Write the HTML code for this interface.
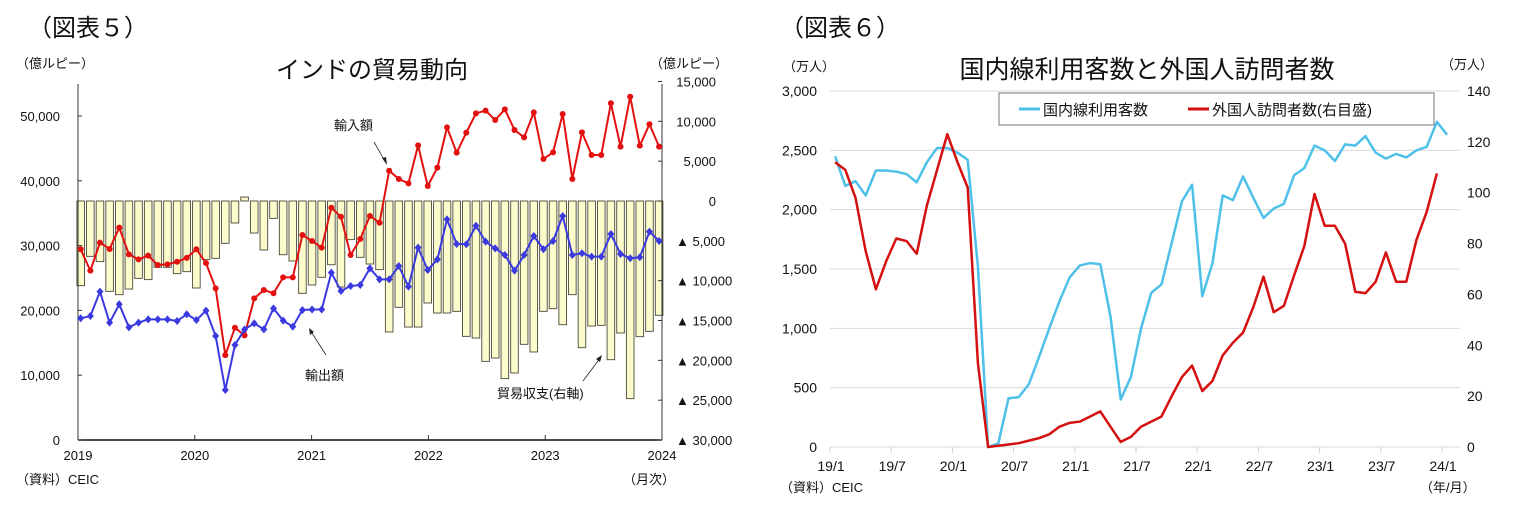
<!DOCTYPE html>
<html><head><meta charset="utf-8">
<style>
html,body{margin:0;padding:0;background:#fff;}
body{width:1519px;height:525px;overflow:hidden;font-family:"Liberation Sans","Noto Sans CJK JP",sans-serif;}
svg text{font-family:"Liberation Sans","Noto Sans CJK JP",sans-serif;fill:#111;}
</style></head><body>
<svg id="svg" width="1519" height="525" viewBox="0 0 1519 525" xmlns="http://www.w3.org/2000/svg">
  <text x="28" y="36" font-size="24" font-family="'Liberation Serif','Noto Serif CJK SC',serif">（図表５）</text>
  <text x="780" y="36" font-size="24" font-family="'Liberation Serif','Noto Serif CJK SC',serif">（図表６）</text>
  <g id="left"></g>
  <g id="right"></g>
</svg>
<script>
// ===== Left chart data (億ルピー) =====
const tradeMonths = 61; // 2019/1 - 2024/1
const tradeYearLabels = ["2019","2020","2021","2022","2023","2024"];
const importValues = [29430,26130,30450,29480,32770,28650,27880,28450,27000,27100,27500,28100,29430,27300,23400,13100,17330,16150,21860,23150,22640,25100,25100,31630,30710,29680,35850,34460,28550,31020,34570,33530,41560,40280,39610,45470,39200,42030,48250,44340,47430,50410,50820,49380,51030,47840,46710,50560,43360,44390,50310,40280,47480,43980,43980,51960,45270,52980,45420,48720,45270];
const exportValues = [18780,19130,22890,18110,20940,17390,18110,18620,18620,18620,18370,19400,18520,19960,16050,7720,14660,17080,18000,17080,20320,18420,17500,20060,20140,20140,25820,22990,23770,23920,26490,24790,24790,26850,23660,29680,26230,27880,34050,30250,30200,33070,30610,29580,28550,26130,28550,31480,29430,30710,34570,28550,28810,28290,28290,31790,28700,28040,28200,32150,30710];
const balanceValues = [-10630,-6950,-7610,-11340,-11760,-11050,-9710,-9870,-8330,-8330,-9120,-8870,-10920,-7360,-7200,-5310,-2760,500,-4020,-6150,-2180,-6740,-7530,-11590,-10540,-9580,-8000,-10800,-4850,-7070,-7910,-8620,-16440,-13350,-15820,-15820,-12800,-14060,-14060,-13850,-16990,-17200,-20130,-19710,-22300,-21590,-17990,-18950,-13850,-13520,-15530,-11760,-18410,-15690,-15610,-19920,-16570,-24810,-17030,-16360,-14350];
const leftTicks = [0,10000,20000,30000,40000,50000];
const leftTickLabels = ["0","10,000","20,000","30,000","40,000","50,000"];
const rightTicks = [15000,10000,5000,0,-5000,-10000,-15000,-20000,-25000,-30000];
const rightTickLabels = ["15,000","10,000","5,000","0","▲ 5,000","▲ 10,000","▲ 15,000","▲ 20,000","▲ 25,000","▲ 30,000"];

// ===== Right chart data (万人) =====
const flightMonthLabels = ["19/1","19/7","20/1","20/7","21/1","21/7","22/1","22/7","23/1","23/7","24/1"];
const domesticValues = [2450,2200,2240,2120,2330,2330,2320,2300,2230,2400,2520,2520,2480,2420,1520,0,30,410,420,530,760,1000,1230,1430,1530,1550,1540,1100,400,590,1000,1300,1370,1720,2070,2210,1270,1550,2120,2080,2280,2100,1930,2010,2050,2290,2350,2540,2500,2410,2550,2540,2620,2480,2430,2470,2440,2500,2530,2740,2630];
const foreignValues = [112,109,98,77,62,73,82,81,76,95,109,123,112,102,33,0,0.5,1,1.5,2.5,3.5,5,8,9.5,10,12,14,8,2,4,8,10,12,20,27.5,32,22,26,36,41,45,55,67,53,55.5,67.5,79,99.5,87,87,80,61,60.5,65,76.5,65,65,81.5,92.5,107.6];
const domesticTicks = [0,500,1000,1500,2000,2500,3000];
const domesticTickLabels = ["0","500","1,000","1,500","2,000","2,500","3,000"];
const foreignTicks = [0,20,40,60,80,100,120,140];
const foreignTickLabels = ["0","20","40","60","80","100","120","140"];

const NS="http://www.w3.org/2000/svg";
function mk(parent,tag,attrs,text){const e=document.createElementNS(NS,tag);for(const k in attrs)e.setAttribute(k,attrs[k]);if(text!==undefined)e.textContent=text;parent.appendChild(e);return e;}

// ---------- LEFT ----------
const L=document.getElementById('left');
const lx0=78,lx1=662,ly0=440,ly1=84;
const xL=i=>80.7+i*9.64;
const yL=v=>440-v*0.00648;
const yR=v=>201-v*0.007967;

let t;
t=mk(L,'text',{x:372,y:78,'font-size':24,'text-anchor':'middle'},'インドの貿易動向');


t=mk(L,'text',{x:16,y:68,'font-size':13},'（億ルピー）');


t=mk(L,'text',{x:650,y:68,'font-size':13},'（億ルピー）');



// bars
balanceValues.forEach((v,i)=>{
  const y0=yR(0),y1=yR(v);
  const r=mk(L,'rect',{x:xL(i)-3.8,y:Math.min(y0,y1),width:7.6,height:Math.max(1,Math.abs(y1-y0)),fill:'#fbfbcc',stroke:'#4a4a3a','stroke-width':0.9});
  
  
});
// axes
let a=mk(L,'line',{x1:lx0,y1:ly1,x2:lx0,y2:ly0,stroke:'#333','stroke-width':1});


a=mk(L,'line',{x1:lx1,y1:ly1,x2:lx1,y2:ly0,stroke:'#333','stroke-width':1});


a=mk(L,'line',{x1:lx0,y1:ly0,x2:lx1,y2:ly0,stroke:'#111','stroke-width':1.5});


leftTicks.forEach((v,i)=>{
  mk(L,'line',{x1:lx0,y1:yL(v),x2:lx0+4,y2:yL(v),stroke:'#333'});
  const tt=mk(L,'text',{x:60,y:yL(v)+5,'font-size':13,'text-anchor':'end'},leftTickLabels[i]);
  
  
});
rightTicks.forEach((v,i)=>{
  mk(L,'line',{x1:lx1-4,y1:yR(v),x2:lx1,y2:yR(v),stroke:'#333'});
  const tt=mk(L,'text',{x:v<0?676:716,y:yR(v)+5,'font-size':13,'text-anchor':v<0?'start':'end'},rightTickLabels[i]);
  
  
});
tradeYearLabels.forEach((s,i)=>{
  const x=lx0+i*116.8;
  mk(L,'line',{x1:x,y1:ly0,x2:x,y2:ly0-5,stroke:'#333'});
  const tt=mk(L,'text',{x:x,y:460,'font-size':13,'text-anchor':'middle'},s);
  
  
});
// lines
function poly(parent,vals,xf,yf,color,w){return mk(parent,'polyline',{points:vals.map((v,i)=>xf(i)+','+yf(v)).join(' '),fill:'none',stroke:color,'stroke-width':w,'stroke-linejoin':'round'});}
let p=poly(L,importValues,xL,yL,'#e31010',2);


importValues.forEach((v,i)=>{const c=mk(L,'circle',{cx:xL(i),cy:yL(v),r:3,fill:'#e31010'});
  
  });
p=poly(L,exportValues,xL,yL,'#3a3ae0',2);


exportValues.forEach((v,i)=>{const x=xL(i),y=yL(v);const d=mk(L,'polygon',{points:`${x},${y-4} ${x+3.5},${y} ${x},${y+4} ${x-3.5},${y}`,fill:'#3a3ae0'});
  
  });
// annotations
t=mk(L,'text',{x:334,y:130,'font-size':13},'輸入額');


mk(L,'line',{x1:374,y1:142,x2:386,y2:163,stroke:'#222','stroke-width':0.8});
mk(L,'polygon',{points:'387,165 382,158 386,157',fill:'#222'});
t=mk(L,'text',{x:305,y:380,'font-size':13},'輸出額');


mk(L,'line',{x1:326,y1:355,x2:310,y2:330,stroke:'#222','stroke-width':0.8});
mk(L,'polygon',{points:'309,328 310,335 314,332',fill:'#222'});
t=mk(L,'text',{x:497,y:398,'font-size':13},'貿易収支(右軸)');


mk(L,'line',{x1:583,y1:381,x2:601,y2:357,stroke:'#222','stroke-width':0.8});
mk(L,'polygon',{points:'602,355 596,359 600,362',fill:'#222'});
t=mk(L,'text',{x:16,y:484,'font-size':13},'（資料）CEIC');


t=mk(L,'text',{x:623,y:484,'font-size':13},'（月次）');



// ---------- RIGHT ----------
const R=document.getElementById('right');
const rx0=830,rx1=1460;
const xR2=i=>830+(i+0.5)*10.2;
const yD=v=>447-v*(356/3000);
const yF=v=>447-v*(356/140);
t=mk(R,'text',{x:1147,y:78,'font-size':25,'text-anchor':'middle'},'国内線利用客数と外国人訪問者数');


t=mk(R,'text',{x:783,y:71,'font-size':13},'（万人）');


t=mk(R,'text',{x:1441,y:69,'font-size':13},'（万人）');


domesticTicks.forEach((v,i)=>{
  const g=mk(R,'line',{x1:rx0,y1:yD(v),x2:rx1,y2:yD(v),stroke:'#d9d9d9','stroke-width':1});
  
  
  const tt=mk(R,'text',{x:817,y:yD(v)+5,'font-size':14,'text-anchor':'end'},domesticTickLabels[i]);
  
  
});
foreignTicks.forEach((v,i)=>{
  const tt=mk(R,'text',{x:1467,y:yF(v)+5,'font-size':14},foreignTickLabels[i]);
  
  
});
flightMonthLabels.forEach((s,i)=>{
  const x=830+i*61.2;
  mk(R,'line',{x1:x,y1:447,x2:x,y2:453,stroke:'#d0d0d0'});
  const tt=mk(R,'text',{x:x+1,y:471,'font-size':14,'text-anchor':'middle'},s);
  
  
});
p=poly(R,domesticValues,xR2,yD,'#4fc1e9',2.5);


p=poly(R,foreignValues,xR2,yF,'#d41010',2.5);


// legend
const lg=mk(R,'g',{});


mk(lg,'rect',{x:999,y:93,width:435,height:32,fill:'#fff',stroke:'#777','stroke-width':1});
mk(lg,'line',{x1:1019,y1:109,x2:1040,y2:109,stroke:'#4fc1e9','stroke-width':3});
t=mk(lg,'text',{x:1043,y:115,'font-size':15},'国内線利用客数');


mk(lg,'line',{x1:1188,y1:109,x2:1209,y2:109,stroke:'#d41010','stroke-width':3});
t=mk(lg,'text',{x:1212,y:115,'font-size':15},'外国人訪問者数(右目盛)');


t=mk(R,'text',{x:780,y:492,'font-size':13},'（資料）CEIC');


t=mk(R,'text',{x:1420,y:492,'font-size':13},'（年/月）');


</script>
</body></html>
